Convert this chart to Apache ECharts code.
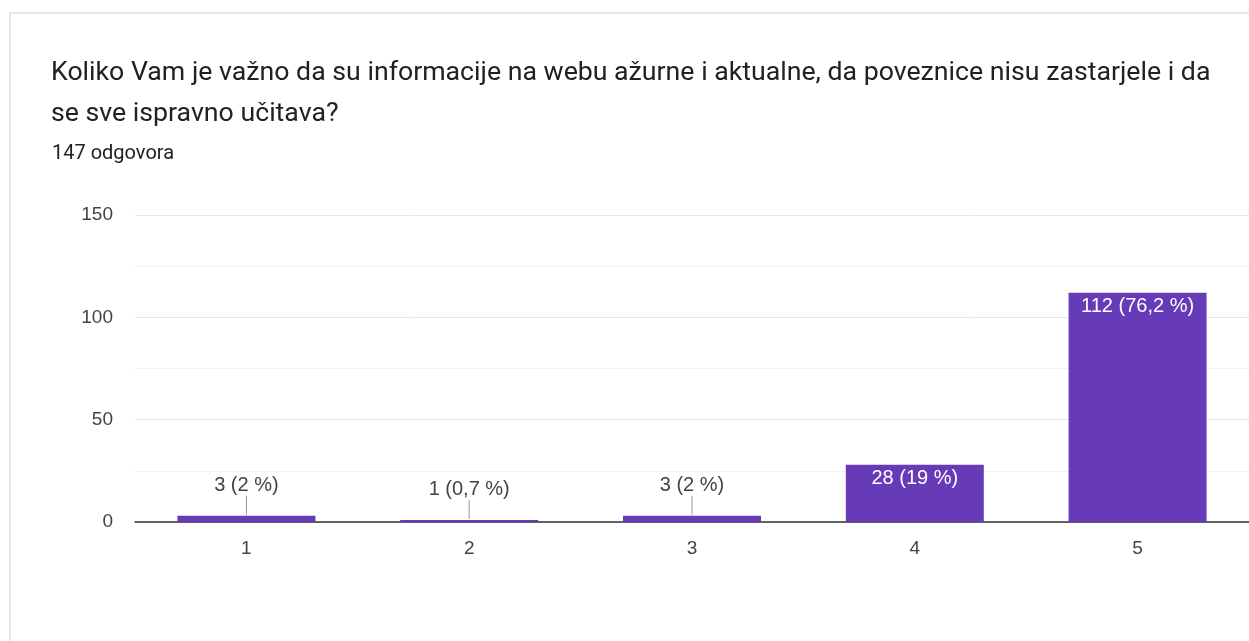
<!DOCTYPE html>
<html>
<head>
<meta charset="utf-8">
<script src="https://cdn.jsdelivr.net/npm/echarts@6/dist/echarts.min.js"></script>
<style>
  html, body { margin: 0; padding: 0; background: #ffffff; overflow: hidden; }
  #card {
    position: absolute; left: 9px; top: 12px; width: 1400px; height: 800px;
    border-left: 2px solid #ece8de; border-top: 2px solid #ece8de;
    box-sizing: border-box;
  }
  #chart { position: absolute; left: 0; top: 0; width: 1249px; height: 641px; }
</style>
</head>
<body>
<div id="card"></div>
<div id="chart"></div>
<script>
// Survey question and answer counts per rating (1-5)
const questionLines = [
  'Koliko Vam je važno da su informacije na webu ažurne i aktualne, da poveznice nisu zastarjele i da',
  'se sve ispravno učitava?'
];
const responseCountText = '147 odgovora';
const totalResponses = 147;
const categories = ['1', '2', '3', '4', '5'];
const counts = [3, 1, 3, 28, 112];
const yTicks = [0, 50, 100, 150];

const barColor = '#673ab7';
const insideThreshold = 20;
const chartFont = '"Liberation Sans", Arial, sans-serif';

function pctLabel(v) {
  let p = (v / totalResponses * 100).toFixed(1);
  if (p.endsWith('.0')) p = p.slice(0, -2);
  return v + ' (' + p.replace('.', ',') + ' %)';
}

const chart = echarts.init(document.getElementById('chart'), null, { renderer: 'canvas' });

chart.setOption({
  backgroundColor: 'transparent',
  animation: false,
  title: [
    {
      text: questionLines.join('\n'),
      left: 46, top: 48,
      textStyle: { fontFamily: 'Roboto', fontSize: 26.7, fontWeight: 'normal', color: '#202124', lineHeight: 41 }
    },
    {
      text: responseCountText,
      left: 47, top: 139,
      textStyle: { fontFamily: 'Roboto', fontSize: 20, fontWeight: 'normal', color: '#202124', lineHeight: 20 }
    }
  ],
  grid: { left: 135, right: -9, top: 215, bottom: 119, containLabel: false },
  xAxis: {
    type: 'category',
    data: categories,
    axisLine: { show: true, lineStyle: { color: '#333333', width: 1.5 } },
    axisTick: { show: false },
    axisLabel: { margin: 17, fontFamily: chartFont, fontSize: 19, color: '#444444' }
  },
  yAxis: {
    type: 'value',
    min: yTicks[0], max: yTicks[yTicks.length - 1], interval: 50,
    axisLine: { show: false },
    axisTick: { show: false },
    axisLabel: { margin: 22, fontFamily: chartFont, fontSize: 19, color: '#444444' },
    splitLine: { lineStyle: { color: '#e9e9e9', width: 1 } },
    minorTick: { show: false, splitNumber: 2 },
    minorSplitLine: { show: true, lineStyle: { color: '#f2f2f2', width: 1 } }
  },
  series: [
    {
      type: 'bar',
      data: counts.map(v => ({
        value: v,
        label: {
          show: v >= insideThreshold,
          position: 'insideTop',
          distance: 4,
          formatter: () => pctLabel(v),
          fontFamily: chartFont, fontSize: 20, color: '#ffffff'
        }
      })),
      barWidth: 138,
      itemStyle: { color: barColor },
      z: 2
    },
    {
      // outside labels with leader lines for short bars
      type: 'custom',
      data: counts.map((v, i) => [i, v]).filter(d => d[1] < insideThreshold),
      z: 3,
      renderItem: function (params, api) {
        const idx = api.value(0), v = api.value(1);
        const p = api.coord([idx, v]);
        return {
          type: 'group',
          children: [
            {
              type: 'line',
              shape: { x1: p[0], y1: p[1] - 1, x2: p[0], y2: p[1] - 20 },
              style: { stroke: '#999999', lineWidth: 1 }
            },
            {
              type: 'text',
              style: {
                x: p[0], y: p[1] - 30,
                text: pctLabel(v),
                textAlign: 'center', textVerticalAlign: 'middle',
                fontFamily: chartFont, fontSize: 20, fill: '#444444'
              }
            }
          ]
        };
      }
    }
  ]
});
</script>
</body>
</html>
